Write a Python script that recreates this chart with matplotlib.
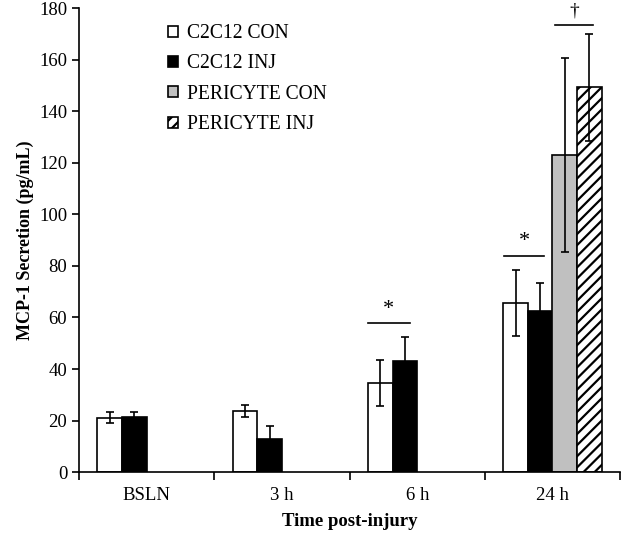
import numpy as np
import matplotlib.pyplot as plt

plt.rcParams['font.family'] = 'Liberation Serif'
plt.rcParams['hatch.linewidth'] = 1.6

# data
groups = ['BSLN', '3 h', '6 h', '24 h']
series = ['C2C12 CON', 'C2C12 INJ', 'PERICYTE CON', 'PERICYTE INJ']
means = [[21.2, 23.7, 34.5, 65.7],
         [21.5, 12.9, 43.1, 62.6],
         [np.nan, np.nan, np.nan, 123.0],
         [np.nan, np.nan, np.nan, 149.2]]
errs = [[2.0, 2.4, 9.0, 12.7],
        [1.7, 5.0, 9.2, 10.8],
        [np.nan, np.nan, np.nan, 37.7],
        [np.nan, np.nan, np.nan, 20.7]]
faces = ['white', 'black', '#c0c0c0', 'white']
hatches = [None, None, None, '///']

fig = plt.figure(figsize=(6.22, 5.36), dpi=100)
ax = fig.add_axes([0.127, 0.119, 0.870, 0.866])

x = np.arange(len(groups))
w = 0.182
for k in range(4):
    pos = x + (k - 1.5) * w
    m = np.array(means[k])
    e = np.array(errs[k])
    ok = ~np.isnan(m)
    ax.bar(pos[ok], m[ok], w, color=faces[k], edgecolor='black', linewidth=1.2,
           hatch=hatches[k], label=series[k], zorder=2)
    ax.errorbar(pos[ok], m[ok], yerr=e[ok], fmt='none', ecolor='black',
                elinewidth=1.2, capsize=3, capthick=1.2, zorder=3)

# significance markers
ax.plot([2 - 0.365, 2 - 0.052], [57.7, 57.7], color='black', lw=1.2)
ax.text(2 - 0.215, 59.5, '*', ha='center', va='bottom', fontsize=16)
ax.plot([3 - 0.355, 3 - 0.06], [83.8, 83.8], color='black', lw=1.2)
ax.text(3 - 0.207, 85.6, '*', ha='center', va='bottom', fontsize=16)
ax.plot([3 + 0.015, 3 + 0.296], [173.5, 173.5], color='black', lw=1.2)
ax.text(3 + 0.163, 175.5, '†', ha='center', va='bottom', fontsize=14)

ax.set_xlim(-0.5, 3.5)
ax.set_ylim(0, 180)
ax.set_yticks(np.arange(0, 181, 20))
ax.set_xticks(x)
ax.set_xticklabels(groups)
ax.set_xticks(np.arange(-0.5, 3.6, 1), minor=True)
ax.tick_params(axis='x', which='major', length=0, pad=11, labelsize=13.5)
ax.tick_params(axis='x', which='minor', length=6, width=1.2, direction='out')
ax.tick_params(axis='y', length=5, width=1.2, labelsize=13.5, direction='out')
for s in ['top', 'right']:
    ax.spines[s].set_visible(False)
for s in ['left', 'bottom']:
    ax.spines[s].set_linewidth(1.2)

ax.set_ylabel('MCP-1 Secretion (pg/mL)', fontweight='bold', fontsize=13)
ax.set_xlabel('Time post-injury', fontweight='bold', fontsize=13.5, labelpad=6)

ax.legend(loc='upper left', bbox_to_anchor=(0.165, 0.9655), frameon=False,
          borderpad=0, borderaxespad=0, fontsize=14.1, handlelength=0.5,
          handleheight=0.5, handletextpad=0.45, labelspacing=0.58)

fig.savefig('out.png', dpi=100)
